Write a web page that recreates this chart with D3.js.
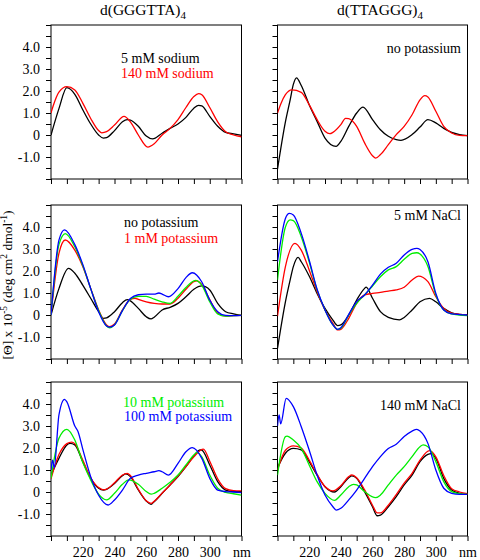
<!DOCTYPE html>
<html>
<head>
<meta charset="utf-8">
<script src="https://cdn.jsdelivr.net/npm/d3@7"></script>
<style>
  html, body { margin: 0; padding: 0; background: #fff; }
  svg { display: block; }
  text { font-family: "Liberation Serif", "DejaVu Serif", "Times New Roman", serif; fill: #000; }
</style>
</head>
<body>
<svg id="chart" width="480" height="560"></svg>
<script>
// ---------------- DATA (wavelength nm, [θ] x 10^-5) ----------------
const titles = ["d(GGGTTA)", "d(TTAGGG)"];
const titleSub = "4";
const yTickLabels = ["-1.0", "0", "1.0", "2.0", "3.0", "4.0"];
const xTickLabels = ["220", "240", "260", "280", "300", "nm"];

// Top-left: d(GGGTTA)4, sodium
const ggg_na5 = [[200,0],[205,1.2],[210,2.15],[215,1.85],[220,1.15],[225,0.5],[230,0.0],[233,-0.14],[235,-0.12],[240,0.2],[245,0.6],[248,0.7],[250,0.68],[255,0.4],[260,-0.05],[264,-0.18],[270,0.08],[275,0.3],[280,0.5],[285,0.8],[290,1.22],[293,1.35],[295,1.32],[300,0.85],[305,0.4],[310,0.12],[315,0.05],[320,-0.02]];
const ggg_na140 = [[200,1.0],[201.5,1.35],[205,1.95],[210,2.2],[215,2.05],[220,1.45],[225,0.75],[230,0.2],[232,0.1],[235,0.15],[240,0.45],[246,0.85],[250,0.6],[255,0.0],[261,-0.55],[265,-0.4],[270,0.0],[275,0.3],[280,0.7],[285,1.25],[290,1.75],[293,1.88],[295,1.83],[300,1.25],[305,0.6],[310,0.15],[315,0.0],[320,-0.08]];

// Top-right: d(TTAGGG)4, no potassium
const tta_k0_black = [[200,-1.55],[205,0.6],[208,1.6],[210,2.3],[212,2.6],[215,2.25],[220,1.38],[225,0.62],[230,-0.14],[237,-0.52],[240,-0.29],[245,0.39],[250,1.0],[254,1.27],[260,0.7],[265,0.24],[270,-0.06],[275,-0.21],[278,-0.24],[285,0.02],[290,0.36],[295,0.7],[300,0.55],[305,0.3],[310,0.12],[315,0.02],[320,-0.03]];
const tta_k0_red = [[200,1.0],[202,1.4],[205,1.83],[209,2.05],[215,1.94],[220,1.38],[225,0.7],[230,0.17],[233,0.06],[235,0.12],[240,0.47],[243,0.76],[245,0.74],[250,0.39],[255,-0.36],[260,-0.94],[262,-1.05],[265,-0.89],[270,-0.44],[275,0.02],[280,0.39],[285,0.92],[290,1.6],[293,1.79],[295,1.73],[300,1.08],[305,0.39],[310,0.09],[315,-0.02],[320,-0.03]];

// Middle-left: d(GGGTTA)4, potassium
const ggg_k0 = [[200,0],[205,1.2],[211,2.12],[215,1.9],[220,1.36],[225,0.76],[230,0.15],[233,-0.15],[235,-0.13],[240,0.15],[245,0.56],[248,0.7],[250,0.64],[255,0.3],[260,-0.08],[263,-0.18],[265,-0.1],[270,0.23],[275,0.35],[280,0.53],[285,0.83],[290,1.17],[295,1.32],[300,1.14],[305,0.53],[310,0.15],[315,0.05],[320,-0.02]];
const ggg_k1 = [[200,0],[205,2.8],[209,3.41],[215,2.95],[220,2.2],[225,1.21],[230,0.23],[235,-0.45],[237,-0.53],[240,-0.41],[245,0.23],[250,0.71],[253,0.76],[255,0.71],[260,0.6],[265,0.53],[270,0.5],[275,0.5],[280,0.76],[285,1.17],[290,1.52],[292,1.55],[295,1.38],[300,0.7],[305,0.08],[310,-0.05],[315,-0.03],[320,-0.02]];
const ggg_k10a = [[200,0],[205,3.2],[209,3.7],[215,3.1],[220,2.25],[225,1.2],[230,0.2],[235,-0.5],[237,-0.58],[240,-0.45],[245,0.2],[250,0.72],[255,0.85],[260,0.85],[265,0.72],[270,0.6],[275,0.53],[280,0.85],[285,1.25],[290,1.55],[291,1.57],[295,1.35],[300,0.6],[305,0.05],[310,-0.05],[315,-0.03],[320,-0.02]];
const ggg_k100a = [[200,0],[205,3.4],[208.5,3.87],[215,3.2],[220,2.3],[225,1.2],[230,0.15],[235,-0.5],[237,-0.55],[240,-0.45],[245,0.2],[250,0.75],[255,0.92],[260,0.95],[265,0.95],[268,1.0],[270,0.95],[274,0.83],[280,1.2],[285,1.7],[289,1.92],[295,1.5],[300,0.68],[305,0.15],[310,-0.02],[315,-0.03],[320,-0.02]];

// Middle-right: d(TTAGGG)4, 5 mM NaCl
const tta_na5_black = [[200,-1.52],[205,0.6],[208,1.6],[210,2.2],[213,2.62],[215,2.42],[220,1.77],[225,0.98],[230,0.3],[235,-0.23],[238,-0.48],[240,-0.45],[245,0.0],[250,0.68],[255,1.21],[256,1.27],[260,0.76],[265,0.15],[270,-0.11],[277,-0.22],[280,-0.11],[285,0.23],[290,0.6],[296,0.76],[300,0.6],[305,0.3],[310,0.1],[315,0.03],[320,0]];
const tta_na5_red = [[200,-0.05],[205,2.2],[211,3.26],[215,2.95],[220,2.05],[225,1.06],[230,0.23],[235,-0.38],[238,-0.68],[240,-0.65],[245,-0.15],[250,0.53],[255,0.91],[260,0.98],[265,1.03],[270,1.09],[275,1.14],[280,1.26],[285,1.59],[289,1.77],[295,1.52],[300,0.83],[305,0.3],[310,0.08],[315,0.03],[320,0]];
const tta_na5_green = [[200,1.6],[205,4.0],[208,4.32],[210,4.29],[215,3.56],[220,2.42],[225,1.14],[230,0.23],[235,-0.45],[238,-0.65],[240,-0.6],[245,0],[250,0.53],[255,0.91],[260,1.32],[265,1.74],[270,2.05],[275,2.2],[280,2.53],[285,2.8],[288,2.83],[290,2.77],[295,2.2],[300,0.91],[305,0.23],[310,0.05],[315,0],[320,-0.03]];
const tta_na5_blue = [[200,2.42],[205,4.39],[207.5,4.62],[210,4.55],[215,3.71],[220,2.5],[225,1.17],[230,0.23],[235,-0.45],[238,-0.65],[240,-0.58],[245,0.03],[250,0.61],[255,0.91],[260,1.36],[265,1.86],[270,2.17],[275,2.35],[280,2.73],[285,2.98],[288,3.03],[290,2.98],[295,2.42],[300,0.98],[305,0.23],[310,0.05],[315,0.02],[320,0]];

// Bottom-left: d(GGGTTA)4, potassium
const ggg_b_black = [[200,0.77],[205,1.53],[210,2.14],[212,2.21],[215,2.14],[220,1.38],[225,0.62],[230,0.17],[233,0.09],[235,0.12],[240,0.39],[245,0.74],[247,0.82],[250,0.7],[255,0.09],[260,-0.41],[263,-0.56],[265,-0.44],[270,-0.06],[275,0.32],[280,0.7],[285,1.15],[290,1.65],[294,1.91],[295,1.9],[300,1.23],[305,0.47],[310,0.09],[315,0.02],[320,0.02]];
const ggg_b_red = [[200,0.6],[205,1.7],[210,2.2],[213,2.27],[215,2.2],[220,1.45],[225,0.65],[230,0.2],[233,0.1],[235,0.13],[240,0.42],[245,0.77],[248,0.85],[250,0.75],[255,0.12],[260,-0.4],[263,-0.52],[265,-0.42],[270,-0.05],[275,0.32],[280,0.72],[285,1.15],[290,1.6],[296,1.95],[300,1.4],[305,0.6],[310,0.15],[315,0.06],[320,0.05]];
const ggg_k10 = [[200,0.62],[205,2.44],[210,2.85],[215,2.36],[220,1.35],[225,0.55],[230,-0.1],[235,-0.36],[240,-0.06],[245,0.35],[249,0.55],[255,0.35],[260,0.02],[263,-0.1],[265,-0.06],[270,0.17],[275,0.44],[280,0.77],[285,1.23],[290,1.68],[292,1.8],[295,1.6],[300,0.77],[305,0.17],[310,-0.02],[315,-0.08],[320,-0.14]];
const ggg_k100 = [[200,1.0],[201,1.45],[202,1.1],[205,3.5],[208.5,4.21],[210,4.1],[215,3.0],[217,2.75],[220,1.95],[225,0.7],[230,-0.15],[236,-0.59],[240,-0.36],[245,0.09],[250,0.62],[255,0.77],[260,0.85],[265,0.92],[268,0.97],[270,0.92],[274,0.77],[280,1.3],[285,1.83],[289,2.02],[295,1.53],[300,0.62],[305,0.09],[310,0.02],[315,0],[320,-0.03]];

// Bottom-right: d(TTAGGG)4, 140 mM NaCl
const tta_na140_black = [[200,1.1],[205,1.76],[210,1.98],[215,1.91],[220,1.38],[225,0.77],[230,0.24],[236,0.0],[240,0.24],[245,0.65],[247,0.73],[250,0.62],[255,0.02],[260,-0.67],[263,-1.08],[265,-1.05],[270,-0.67],[275,-0.21],[280,0.32],[285,0.77],[290,1.38],[295,1.71],[297,1.74],[300,1.53],[305,0.62],[310,0.09],[315,-0.06],[320,-0.11]];
const tta_na140_red = [[200,1.0],[205,1.9],[210,2.1],[215,2.0],[220,1.45],[225,0.8],[230,0.25],[235,0.05],[240,0.28],[245,0.7],[247,0.78],[250,0.65],[255,0.1],[260,-0.6],[263,-0.95],[265,-0.95],[270,-0.6],[275,-0.12],[280,0.4],[285,0.85],[290,1.45],[296,1.88],[300,1.6],[305,0.75],[310,0.15],[315,0.0],[320,-0.08]];
const tta_na140_green = [[200,0.77],[205,2.52],[206,2.54],[210,2.36],[215,1.98],[220,1.23],[225,0.47],[230,-0.06],[236,-0.38],[240,-0.14],[245,0.24],[248,0.35],[250,0.32],[255,0.02],[262,-0.26],[265,-0.14],[270,0.32],[275,0.77],[280,1.15],[285,1.61],[290,2.06],[292,2.14],[295,2.06],[300,1.38],[305,0.47],[310,0.02],[315,-0.08],[320,-0.11]];
const tta_na140_blue = [[200,3.0],[201,3.5],[202,3.1],[205.5,4.26],[210,3.88],[215,2.97],[220,1.91],[225,0.77],[230,-0.14],[235,-0.67],[237,-0.82],[240,-0.74],[245,-0.36],[250,0.09],[255,0.62],[260,1.15],[265,1.61],[270,1.98],[275,2.17],[280,2.52],[285,2.77],[288,2.85],[290,2.77],[295,2.21],[300,1.0],[305,0.17],[310,-0.06],[315,-0.11],[320,-0.11]];

// ---------------- LAYOUT / STYLE ----------------
const FONT = "'Liberation Serif', 'DejaVu Serif', 'Times New Roman', serif";
const C = { black: "#000000", red: "#ff0000", green: "#00ee00", blue: "#0000ff" };
const cols = [{ x0: 51, x1: 241.5 }, { x0: 277.5, x1: 467.5 }];
const rows = [{ top: 25 }, { top: 205 }, { top: 382 }];
const panelH = 154;

const panels = [
  { col: 0, row: 0, series: [[ggg_na5, C.black], [ggg_na140, C.red]],
    legend: [{ t: "5 mM sodium", c: C.black, x: 121, y: 63 }, { t: "140 mM sodium", c: C.red, x: 121, y: 78 }], anchor: "start" },
  { col: 1, row: 0, series: [[tta_k0_black, C.black], [tta_k0_red, C.red]],
    legend: [{ t: "no potassium", c: C.black, x: 461, y: 53 }], anchor: "end" },
  { col: 0, row: 1, series: [[ggg_k0, C.black], [ggg_k1, C.red], [ggg_k10a, C.green], [ggg_k100a, C.blue]],
    legend: [{ t: "no potassium", c: C.black, x: 124, y: 227 }, { t: "1 mM potassium", c: C.red, x: 124, y: 243 }], anchor: "start" },
  { col: 1, row: 1, series: [[tta_na5_black, C.black], [tta_na5_red, C.red], [tta_na5_green, C.green], [tta_na5_blue, C.blue]],
    legend: [{ t: "5 mM NaCl", c: C.black, x: 461, y: 220 }], anchor: "end" },
  { col: 0, row: 2, series: [[ggg_b_black, C.black], [ggg_b_red, C.red], [ggg_k10, C.green], [ggg_k100, C.blue]],
    legend: [{ t: "10 mM potassium", c: C.green, x: 123, y: 407 }, { t: "100 mM potassium", c: C.blue, x: 124, y: 421 }], anchor: "start" },
  { col: 1, row: 2, series: [[tta_na140_black, C.black], [tta_na140_red, C.red], [tta_na140_green, C.green], [tta_na140_blue, C.blue]],
    legend: [{ t: "140 mM NaCl", c: C.black, x: 461, y: 410 }], anchor: "end" }
];

const svg = d3.select("#chart");
const xTickVals = d3.range(200, 321, 10);
const yTickVals = d3.range(-2, 5.01, 0.5);
const yLabelVals = [-1, 0, 1, 2, 3, 4];
const xLabelVals = [220, 240, 260, 280, 300, 320];

panels.forEach(p => {
  const col = cols[p.col], row = rows[p.row];
  const x = d3.scaleLinear().domain([200, 320]).range([col.x0, col.x1]);
  const y = d3.scaleLinear().domain([-2, 5]).range([row.top + panelH, row.top]);
  const g = svg.append("g");

  // frame
  g.append("rect").attr("x", col.x0).attr("y", row.top)
    .attr("width", col.x1 - col.x0).attr("height", panelH)
    .attr("fill", "none").attr("stroke", "#000").attr("stroke-width", 1);

  // y axis
  const yAxis = d3.axisLeft(y).tickValues(yTickVals).tickSize(5).tickSizeOuter(0).tickPadding(6)
    .tickFormat(d => {
      if (p.col !== 0) return "";
      const i = yLabelVals.findIndex(v => Math.abs(v - d) < 1e-9);
      return i >= 0 ? yTickLabels[i] : "";
    });
  const ya = g.append("g").attr("transform", `translate(${col.x0},0)`).call(yAxis)
    .attr("font-family", FONT).attr("font-size", 14);
  ya.select(".domain").remove();
  ya.selectAll("text").style("font-size", "14px").style("font-family", FONT);

  // x axis
  const xAxis = d3.axisBottom(x).tickValues(xTickVals).tickSize(5).tickSizeOuter(0).tickPadding(6)
    .tickFormat(d => {
      if (p.row !== 2) return "";
      const i = xLabelVals.indexOf(d);
      return i >= 0 ? xTickLabels[i] : "";
    });
  const xa = g.append("g").attr("transform", `translate(0,${row.top + panelH})`).call(xAxis)
    .attr("font-family", FONT).attr("font-size", 14);
  xa.select(".domain").remove();
  xa.selectAll("text").style("font-size", "14px").style("font-family", FONT);

  // curves
  const clipId = `clip${p.col}${p.row}`;
  svg.append("clipPath").attr("id", clipId).append("rect")
    .attr("x", col.x0).attr("y", row.top).attr("width", col.x1 - col.x0).attr("height", panelH);
  const line = d3.line().x(d => x(d[0])).y(d => y(d[1])).curve(d3.curveMonotoneX);
  p.series.forEach(([data, color]) => {
    g.append("path").datum(data).attr("d", line)
      .attr("fill", "none").attr("stroke", color).attr("stroke-width", 1.3)
      .attr("stroke-linejoin", "round").attr("clip-path", `url(#${clipId})`);
  });

  // legend texts
  p.legend.forEach(l => {
    g.append("text").attr("x", l.x).attr("y", l.y).attr("text-anchor", p.anchor)
      .style("font-size", "14px").style("font-family", FONT).style("fill", l.c).text(l.t);
  });
});

// titles
[[143, titles[0]], [380, titles[1]]].forEach(([cx, t]) => {
  const tt = svg.append("text").attr("x", cx).attr("y", 15).attr("text-anchor", "middle")
    .style("font-size", "15.5px").style("font-family", FONT);
  tt.append("tspan").text(t);
  tt.append("tspan").attr("dy", 4).style("font-size", "11px").text(titleSub);
});

// y-axis label
const yl = svg.append("text").attr("transform", "translate(12,285) rotate(-90)")
  .attr("text-anchor", "middle").style("font-size", "13.5px").style("font-family", FONT);
yl.append("tspan").text("[Θ] x 10");
yl.append("tspan").attr("dy", -5).style("font-size", "9.5px").text("-5");
yl.append("tspan").attr("dy", 5).text(" (deg cm");
yl.append("tspan").attr("dy", -5).style("font-size", "9.5px").text("2");
yl.append("tspan").attr("dy", 5).text(" dmol");
yl.append("tspan").attr("dy", -5).style("font-size", "9.5px").text("-1");
yl.append("tspan").attr("dy", 5).text(")");
</script>
</body>
</html>
